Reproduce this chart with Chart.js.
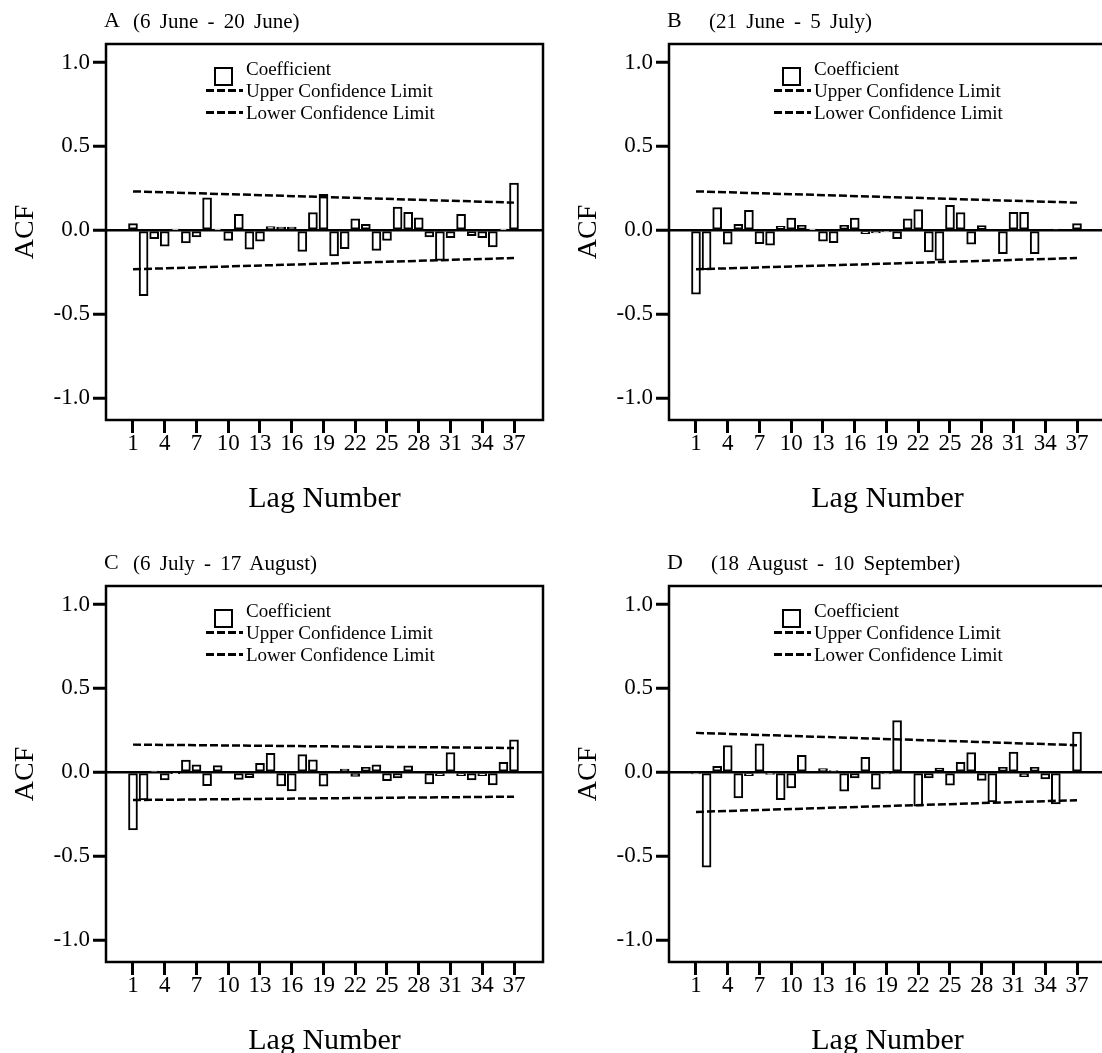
<!DOCTYPE html>
<html>
<head>
<meta charset="utf-8">
<script src="https://cdn.jsdelivr.net/npm/chart.js@4.4.1/dist/chart.umd.min.js"></script>
<style>
  html, body { margin: 0; padding: 0; background: #fff; }
  body { width: 1102px; height: 1053px; overflow: hidden; position: relative; font-family: "Liberation Serif", "DejaVu Serif", serif; color: #000; }
  .panel { position: absolute; width: 563px; height: 542px; }
  .panel canvas { position: absolute; left: 0; top: 0; }
  .ttl { position: absolute; top: 9px; white-space: nowrap; line-height: 22px; }
  .ttl .l { position: absolute; left: 0; font-size: 22px; }
  .ttl .t { position: absolute; font-size: 21px; word-spacing: 4px; top: 1px; }
  .lg { position: absolute; font-size: 19px; line-height: 19px; white-space: nowrap; }
  .box { position: absolute; width: 15px; height: 15px; border: 2px solid #000; }
  .dash { position: absolute; width: 37px; height: 2.5px;
          background: repeating-linear-gradient(to right, #000 0 8px, transparent 8px 11px); }
</style>
</head>
<body>
<div class="panel" id="pA" style="left:0;top:0"><canvas id="cA" width="563" height="542"></canvas></div>
<div class="panel" id="pB" style="left:563px;top:0"><canvas id="cB" width="563" height="542"></canvas></div>
<div class="panel" id="pC" style="left:0;top:542px"><canvas id="cC" width="563" height="542"></canvas></div>
<div class="panel" id="pD" style="left:563px;top:542px"><canvas id="cD" width="563" height="542"></canvas></div>
<script>
// lag numbers and axis ticks
const lags = [1, 2, 3, 4, 5, 6, 7, 8, 9, 10, 11, 12, 13, 14, 15, 16, 17, 18, 19, 20,
              21, 22, 23, 24, 25, 26, 27, 28, 29, 30, 31, 32, 33, 34, 35, 36, 37];
const xTicks = [1, 4, 7, 10, 13, 16, 19, 22, 25, 28, 31, 34, 37];
const yTicks = [-1.0, -0.5, 0.0, 0.5, 1.0];

// ACF coefficients
const acfA = [0.04, -0.39, -0.05, -0.095, 0.003, -0.075, -0.04, 0.194, 0.003, -0.06,
              0.095, -0.113, -0.065, 0.022, 0.02, 0.02, -0.125, 0.105, 0.214, -0.153,
              -0.109, 0.069, 0.036, -0.119, -0.06, 0.139, 0.107, 0.075, -0.04, -0.179,
              -0.044, 0.095, -0.032, -0.044, -0.099, 0.003, 0.282];
const acfB = [-0.381, -0.235, 0.135, -0.083, 0.036, 0.119, -0.079, -0.089, 0.024, 0.073,
              0.03, 0.003, -0.065, -0.073, 0.03, 0.073, -0.02, -0.015, -0.01, -0.05,
              0.069, 0.123, -0.129, -0.179, 0.149, 0.105, -0.083, 0.028, 0.0, -0.139,
              0.107, 0.107, -0.139, 0.0, 0.008, 0.0, 0.04];
const acfC = [-0.343, -0.165, 0.005, -0.046, -0.005, 0.073, 0.044, -0.079, 0.04, 0.0,
              -0.042, -0.032, 0.054, 0.113, -0.081, -0.111, 0.105, 0.075, -0.083, 0.0,
              0.02, -0.024, 0.03, 0.044, -0.05, -0.034, 0.038, 0.0, -0.069, -0.02,
              0.117, -0.02, -0.046, -0.02, -0.075, 0.06, 0.194];
const acfD = [-0.01, -0.565, 0.036, 0.16, -0.153, -0.02, 0.17, -0.012, -0.163, -0.093,
              0.101, 0.0, 0.022, 0.01, -0.113, -0.034, 0.089, -0.1, -0.01, 0.308,
              0.0, -0.202, -0.034, 0.026, -0.077, 0.06, 0.117, -0.048, -0.177, 0.03,
              0.121, -0.026, 0.03, -0.04, -0.188, 0.0, 0.24];

// confidence limits at first and last lag
const limitLags = [1, 37];
const upperA = [0.232, 0.165], lowerA = [-0.232, -0.165];
const upperB = [0.232, 0.165], lowerB = [-0.232, -0.165];
const upperC = [0.165, 0.145], lowerC = [-0.165, -0.145];
const upperD = [0.235, 0.162], lowerD = [-0.236, -0.166];

const letters = ['A', 'B', 'C', 'D'];
const periods = ['(6 June - 20 June)', '(21 June - 5 July)', '(6 July - 17 August)', '(18 August - 10 September)'];
const legendLabels = ['Coefficient', 'Upper Confidence Limit', 'Lower Confidence Limit'];

const FONT = 'Liberation Serif';

const framePlugin = {
  id: 'frame',
  afterDraw(chart) {
    const { ctx, chartArea: a } = chart;
    ctx.save();
    ctx.lineWidth = 2.5;
    ctx.strokeStyle = '#000';
    ctx.strokeRect(a.left, a.top, a.right - a.left, a.bottom - a.top);
    ctx.restore();
  }
};

function addOverlay(panel, idx, titleX, lx) {
  const t = document.createElement('div');
  t.className = 'ttl';
  t.style.left = '104px';
  t.innerHTML = '<span class="l">' + letters[idx] + '</span><span class="t" style="left:' + titleX + 'px">' + periods[idx] + '</span>';
  panel.appendChild(t);

  const lg = document.createElement('div');
  lg.innerHTML =
    '<div class="box" style="left:' + (lx + 8) + 'px;top:67px"></div>' +
    '<div class="lg" style="left:' + (lx + 40) + 'px;top:59px">' + legendLabels[0] + '</div>' +
    '<div class="dash" style="left:' + lx + 'px;top:89px"></div>' +
    '<div class="lg" style="left:' + (lx + 40) + 'px;top:81px">' + legendLabels[1] + '</div>' +
    '<div class="dash" style="left:' + lx + 'px;top:111px"></div>' +
    '<div class="lg" style="left:' + (lx + 40) + 'px;top:103px">' + legendLabels[2] + '</div>';
  panel.appendChild(lg);
}

function makeChart(id, acf, upper, lower) {
  const ctx = document.getElementById(id).getContext('2d');
  return new Chart(ctx, {
    type: 'bar',
    data: {
      datasets: [
        {
          type: 'line',
          data: limitLags.map((x, i) => ({ x: x, y: upper[i] })),
          borderColor: '#000', borderWidth: 2.5, borderDash: [8, 3],
          pointRadius: 0, fill: false, order: 1
        },
        {
          type: 'line',
          data: limitLags.map((x, i) => ({ x: x, y: lower[i] })),
          borderColor: '#000', borderWidth: 2.5, borderDash: [8, 3],
          pointRadius: 0, fill: false, order: 1
        },
        {
          type: 'bar',
          data: lags.map((x, i) => ({ x: x, y: acf[i] })),
          backgroundColor: '#fff', borderColor: '#000', borderWidth: 2,
          borderSkipped: false, barThickness: 9, order: 2
        }
      ]
    },
    options: {
      responsive: false,
      animation: false,
      devicePixelRatio: 1,
      layout: { padding: { top: 44, right: 20, bottom: 0, left: 0 } },
      plugins: { legend: { display: false }, tooltip: { enabled: false } },
      scales: {
        x: {
          type: 'linear', min: -1.55, max: 39.74, offset: false,
          afterBuildTicks: s => { s.ticks = xTicks.map(v => ({ value: v })); },
          afterFit: s => { s.height = 122; },
          grid: { offset: false, drawOnChartArea: false, drawTicks: true, tickLength: 13, tickWidth: 3, tickColor: '#000' },
          border: { display: false },
          ticks: { autoSkip: false, maxRotation: 0, padding: -3, color: '#000',
                   font: { family: FONT, size: 23 }, callback: v => String(v) },
          title: { display: true, text: 'Lag Number', color: '#000',
                   font: { family: FONT, size: 30 }, padding: { top: 0, bottom: 25 } }
        },
        y: {
          min: -1.13, max: 1.11,
          afterBuildTicks: s => { s.ticks = yTicks.map(v => ({ value: v })); },
          afterFit: s => { s.width = 106; },
          grid: {
            color: c => (c.tick && c.tick.value === 0) ? '#000' : 'rgba(0,0,0,0)',
            lineWidth: 2.5, drawTicks: true, tickLength: 13, tickWidth: 3, tickColor: '#000'
          },
          border: { display: false },
          ticks: { padding: 3, color: '#000', font: { family: FONT, size: 23 },
                   callback: v => v.toFixed(1) },
          title: { display: true, text: 'ACF', color: '#000',
                   font: { family: FONT, size: 28 }, padding: { top: 9, bottom: 0 } }
        }
      }
    },
    plugins: [framePlugin]
  });
}

makeChart('cA', acfA, upperA, lowerA);
makeChart('cB', acfB, upperB, lowerB);
makeChart('cC', acfC, upperC, lowerC);
makeChart('cD', acfD, upperD, lowerD);

addOverlay(document.getElementById('pA'), 0, 29, 206);
addOverlay(document.getElementById('pB'), 1, 42, 211);
addOverlay(document.getElementById('pC'), 2, 29, 206);
addOverlay(document.getElementById('pD'), 3, 44, 211);
</script>
</body>
</html>
